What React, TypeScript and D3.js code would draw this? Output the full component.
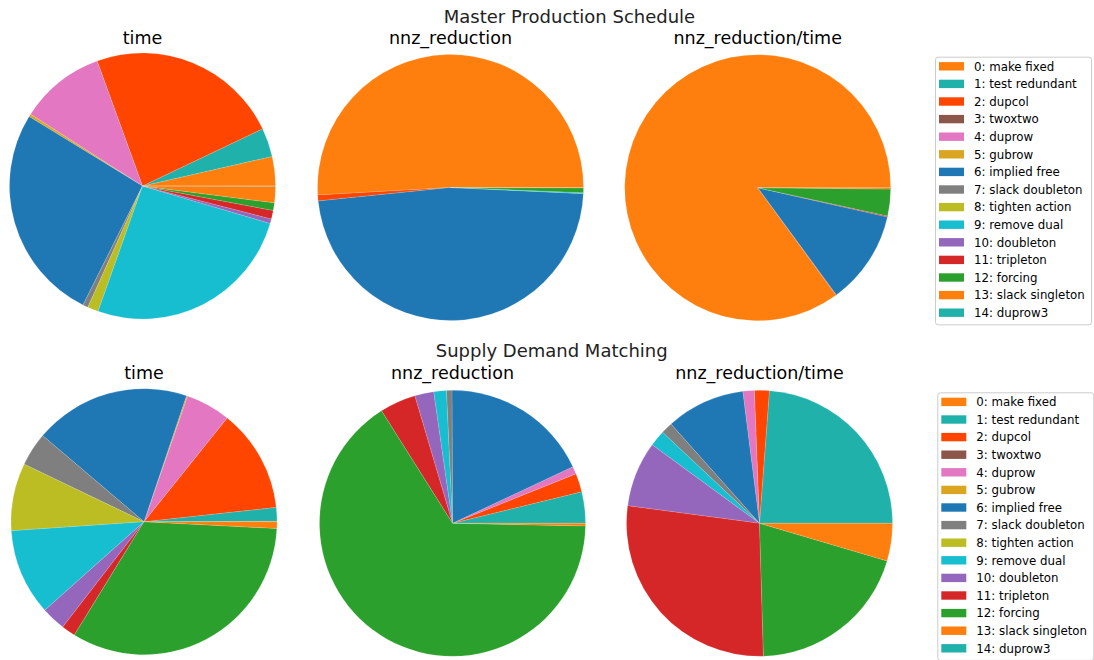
import React from "react";
import * as d3 from "d3";

// Presolve rule names, in legend order
const RULES: string[] = [
  "make fixed",
  "test redundant",
  "dupcol",
  "twoxtwo",
  "duprow",
  "gubrow",
  "implied free",
  "slack doubleton",
  "tighten action",
  "remove dual",
  "doubleton",
  "tripleton",
  "forcing",
  "slack singleton",
  "duprow3",
];

const RULE_COLORS: string[] = [
  "#ff7f0e",
  "#20b2aa",
  "#ff4500",
  "#8c564b",
  "#e377c2",
  "#daa520",
  "#1f77b4",
  "#7f7f7f",
  "#bcbd22",
  "#17becf",
  "#9467bd",
  "#d62728",
  "#2ca02c",
  "#ff7f0e",
  "#20b2aa",
];

// Share (%) of each rule, Master Production Schedule
const mpsTime: number[] = [3.56, 3.5, 23.42, 0, 10.36, 0.33, 26.31, 0.64, 1.31, 25.83, 0.56, 1.03, 0.92, 2.0, 0.02];
const mpsNnz: number[] = [50.89, 0, 0.72, 0, 0, 0, 47.64, 0, 0, 0.11, 0, 0, 0.58, 0.05, 0];
const mpsNnzPerTime: number[] = [85.03, 0, 0.08, 0, 0, 0, 11.39, 0, 0, 0, 0, 0.11, 3.25, 0.17, 0];

// Share (%) of each rule, Supply Demand Matching
const sdmTime: number[] = [0.05, 1.67, 12.53, 0, 5.44, 0.14, 18.97, 4.08, 8.22, 10.5, 2.94, 1.69, 32.97, 0.81, 0];
const sdmNnz: number[] = [0, 3.81, 2.25, 0, 0.94, 0, 18.06, 0.67, 0, 1.53, 2.31, 4.39, 65.72, 0.31, 0];
const sdmNnzPerTime: number[] = [0, 23.81, 1.81, 0, 1.39, 0, 9.58, 1.42, 0, 1.94, 7.94, 27.58, 19.97, 4.56, 0];

const PIE_TITLES: string[] = ["time", "nnz_reduction", "nnz_reduction/time"];

const FONT = "'DejaVu Sans', sans-serif";
const RADIUS = 133;

type Group = {
  title: string;
  titleX: number;
  titleY: number;
  pieTitleY: number;
  centers: [number, number][];
  series: number[][];
  legendX: number;
  legendY: number;
};

const groups: Group[] = [
  {
    title: "Master Production Schedule",
    titleX: 569.5,
    titleY: 22.5,
    pieTitleY: 43.5,
    centers: [
      [142.5, 186],
      [450.5, 187.5],
      [757.7, 187.7],
    ],
    series: [mpsTime, mpsNnz, mpsNnzPerTime],
    legendX: 935,
    legendY: 56.7,
  },
  {
    title: "Supply Demand Matching",
    titleX: 551.7,
    titleY: 357,
    pieTitleY: 379,
    centers: [
      [144, 521.7],
      [452.5, 523.3],
      [759.5, 523.3],
    ],
    series: [sdmTime, sdmNnz, sdmNnzPerTime],
    legendX: 937.3,
    legendY: 392.3,
  },
];

// Counter-clockwise from 3 o'clock, as in a matplotlib pie
const pieLayout = d3
  .pie<number>()
  .sort(null)
  .value((d) => d)
  .startAngle(Math.PI / 2)
  .endAngle(Math.PI / 2 - 2 * Math.PI);

const arcGen = d3
  .arc<d3.PieArcDatum<number>>()
  .innerRadius(0)
  .outerRadius(RADIUS);

function Pie({ cx, cy, values }: { cx: number; cy: number; values: number[] }) {
  const arcs = pieLayout(values);
  return (
    <g transform={`translate(${cx},${cy})`}>
      {arcs.map((a, i) =>
        a.value > 0 ? (
          <path
            key={i}
            d={arcGen(a) || ""}
            fill={RULE_COLORS[i]}
            stroke="#ffffff"
            strokeOpacity={0.35}
            strokeWidth={0.4}
          />
        ) : null
      )}
    </g>
  );
}

function Legend({ x, y }: { x: number; y: number }) {
  const rowH = 17.6;
  const w = 156;
  const h = 267.6;
  return (
    <g transform={`translate(${x},${y})`}>
      <rect
        x={0.5}
        y={0.5}
        width={w}
        height={h}
        rx={2.5}
        fill="#ffffff"
        fillOpacity={0.8}
        stroke="#cccccc"
        strokeWidth={1}
      />
      {RULES.map((name, i) => {
        const cy = 9.6 + i * rowH;
        return (
          <g key={name}>
            <rect x={4} y={cy - 4.2} width={25} height={8.4} fill={RULE_COLORS[i]} />
            <text x={39} y={cy + 4.3} fontFamily={FONT} fontSize={11.8} fill="#000">
              {`${i}: ${name}`}
            </text>
          </g>
        );
      })}
    </g>
  );
}

export default function App() {
  return (
    <svg
      width={1094}
      height={660}
      style={{ position: "absolute", left: 0, top: 0, background: "#ffffff" }}
    >
      <rect width={1094} height={660} fill="#ffffff" />
      {groups.map((g) => (
        <g key={g.title}>
          <text
            x={g.titleX}
            y={g.titleY}
            textAnchor="middle"
            fontFamily={FONT}
            fontSize={18}
            fill="#222"
          >
            {g.title}
          </text>
          {g.series.map((vals, k) => (
            <g key={k}>
              <Pie cx={g.centers[k][0]} cy={g.centers[k][1]} values={vals} />
              <text
                x={g.centers[k][0]}
                y={g.pieTitleY}
                textAnchor="middle"
                fontFamily={FONT}
                fontSize={17.5}
                fill="#000"
              >
                {PIE_TITLES[k]}
              </text>
            </g>
          ))}
          <Legend x={g.legendX} y={g.legendY} />
        </g>
      ))}
    </svg>
  );
}
